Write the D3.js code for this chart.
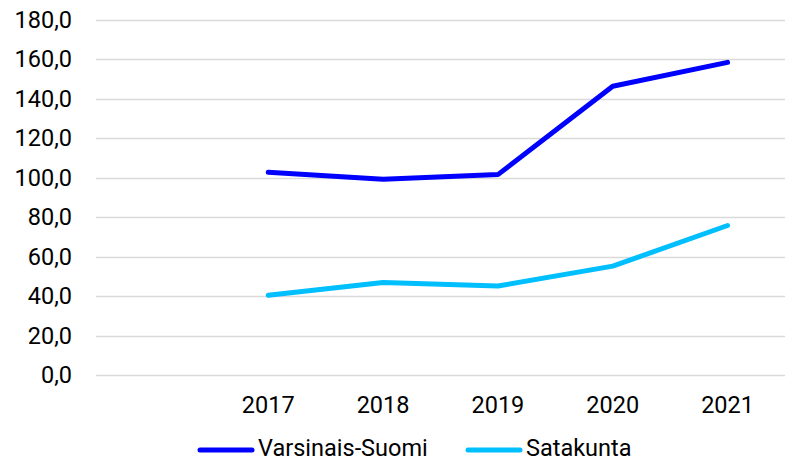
<!DOCTYPE html>
<html>
<head>
<meta charset="utf-8">
<script src="https://cdn.jsdelivr.net/npm/d3@7"></script>
<style>
	body { margin: 0; background: #fff; }
	svg text { font-family: Roboto, "Liberation Sans", sans-serif; fill: #000; }
</style>
</head>
<body>
<svg class="chart"></svg>
<script>
// chart data
var years = ["", "2017", "2018", "2019", "2020", "2021"];
var varsinaisSuomi = [null, 102.8, 99.2, 101.6, 146.4, 158.5];
var satakunta = [null, 40.4, 46.9, 45.1, 55.2, 75.8];
var seriesNames = ["Varsinais-Suomi", "Satakunta"];
var yTicks = [0, 20, 40, 60, 80, 100, 120, 140, 160, 180];

var width = 788, height = 460;
var margin = {top: 20, right: 3, bottom: 85, left: 96};
var fontSize = "23.5px";

var svg = d3.select("svg.chart")
	.attr("width", width)
	.attr("height", height);

// scales
var x = d3.scaleBand()
	.domain(years)
	.range([margin.left, width - margin.right]);

var y = d3.scaleLinear()
	.domain([0, 180])
	.range([height - margin.bottom, margin.top]);

var colors = d3.scaleOrdinal()
	.domain(seriesNames)
	.range(["#0000ff", "#00bfff"]);

// gridlines
svg.append("g")
	.selectAll("line")
	.data(yTicks)
	.enter()
	.append("line")
	.attr("x1", margin.left)
	.attr("x2", width - margin.right)
	.attr("y1", function(d) { return Math.round(y(d)) + 0.5; })
	.attr("y2", function(d) { return Math.round(y(d)) + 0.5; })
	.attr("stroke", "#d9d9d9")
	.attr("stroke-width", 1.3);

// y axis labels
var yAxis = d3.axisLeft(y)
	.tickValues(yTicks)
	.tickSize(0)
	.tickPadding(24)
	.tickFormat(function(d) { return d3.format(".1f")(d).replace(".", ","); });

svg.append("g")
	.attr("transform", "translate(" + margin.left + ",0)")
	.call(yAxis)
	.call(function(g) { g.select(".domain").remove(); })
	.selectAll("text")
	.style("font-size", fontSize);

// x axis labels
var xAxis = d3.axisBottom(x)
	.tickSize(0)
	.tickPadding(21);

svg.append("g")
	.attr("transform", "translate(0," + y(0) + ")")
	.call(xAxis)
	.call(function(g) { g.select(".domain").remove(); })
	.selectAll("text")
	.style("font-size", fontSize);

// lines
var line = d3.line()
	.defined(function(d) { return d != null; })
	.x(function(d, i) { return x(years[i]) + x.bandwidth() / 2; })
	.y(function(d) { return y(d); });

var series = [varsinaisSuomi, satakunta];

svg.append("g")
	.selectAll("path")
	.data(series)
	.enter()
	.append("path")
	.attr("d", line)
	.attr("fill", "none")
	.attr("stroke", function(d, i) { return colors(seriesNames[i]); })
	.attr("stroke-width", 5)
	.attr("stroke-linecap", "round")
	.attr("stroke-linejoin", "round");

// legend
var legendX = [200, 468];
var legend = svg.append("g")
	.selectAll("g")
	.data(seriesNames)
	.enter()
	.append("g")
	.attr("transform", function(d, i) { return "translate(" + legendX[i] + ",450)"; });

legend.append("line")
	.attr("x1", 0)
	.attr("x2", 52)
	.attr("stroke", function(d) { return colors(d); })
	.attr("stroke-width", 5)
	.attr("stroke-linecap", "round");

legend.append("text")
	.attr("x", 58)
	.attr("y", 6)
	.style("font-size", fontSize)
	.text(function(d) { return d; });
</script>
</body>
</html>
